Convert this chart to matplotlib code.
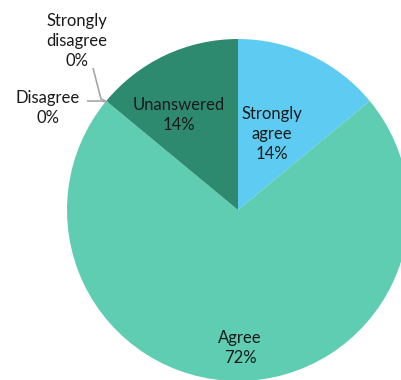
import numpy as np
import matplotlib
matplotlib.use("Agg")
import matplotlib.pyplot as plt

categories = ["Strongly agree", "Agree", "Disagree", "Strongly disagree", "Unanswered"]
values = [14, 72, 0, 0, 14]
colors = ["#5DCBF2", "#5ECDB1", "#5ECDB1", "#2E8A6F", "#2E8A6F"]
label_lines = ["Strongly\nagree\n14%", "Agree\n72%", "Disagree\n0%", "Strongly\ndisagree\n0%", "Unanswered\n14%"]

W, H = 402, 380
cx, cy, R = 238, 210, 171  # pixel placement of pie

fig = plt.figure(figsize=(W / 100, H / 100), dpi=100)
ax = fig.add_axes([0, 0, 1, 1])
wedges, _ = ax.pie(values, colors=colors, startangle=90, counterclock=False,
                   radius=1, wedgeprops=dict(linewidth=0))
ax.set_aspect("auto")
ax.set_xlim(-cx / R, (W - cx) / R)
ax.set_ylim(-(H - cy) / R, cy / R)
ax.axis("off")

def px(x, y):
    return ((x - cx) / R, (cy - y) / R)

font = dict(family=["Lato", "DejaVu Sans"], fontsize=12, color="#1a1a1a",
            ha="center", va="center", linespacing=1.3)

# label positions (pixels)
label_pos = {
    "Strongly agree": (272, 134),
    "Agree": (240, 348),
    "Disagree": (48, 108),
    "Strongly disagree": (77, 41),
    "Unanswered": (179, 115),
}
for cat, txt in zip(categories, label_lines):
    x, y = px(*label_pos[cat])
    ax.text(x, y, txt, **font)

# leader lines for zero slices, ending at wedge boundary
ang = np.deg2rad(90 - 360 * sum(values[:2]) / sum(values))
ex, ey = 0.99 * np.cos(ang), 0.99 * np.sin(ang)
lc = "#A6A6A6"
p1 = px(87, 101); p2 = px(101, 101)
ax.plot([p1[0], p2[0], ex], [p1[1], p2[1], ey], color=lc, lw=1.2, solid_capstyle="butt")
q1 = px(93, 68); q2 = px(101, 99)
ax.plot([q1[0], q2[0], ex], [q1[1], q2[1], ey], color=lc, lw=1.2, solid_capstyle="butt")

fig.savefig("out.png", dpi=100)
